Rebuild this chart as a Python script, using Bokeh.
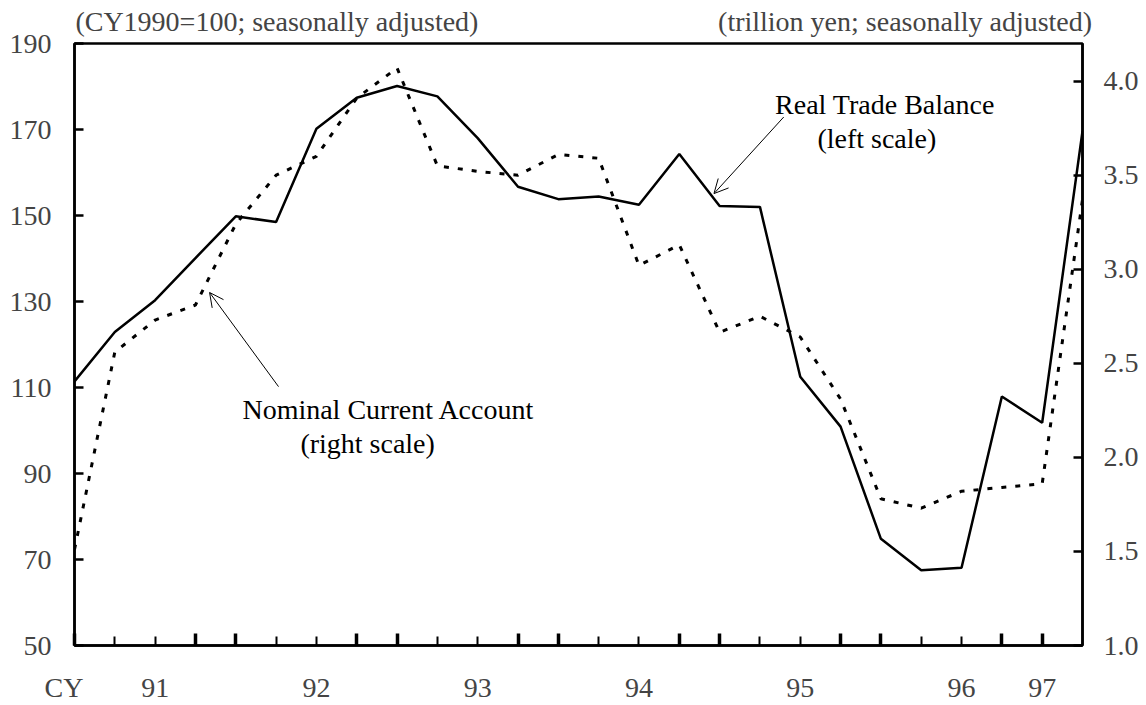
from bokeh.plotting import figure
from bokeh.models import (Range1d, LinearAxis, FixedTicker, Label, Arrow, OpenHead,
                          NumeralTickFormatter)
from bokeh.embed import file_html
from bokeh.resources import INLINE

# ---- data (quarterly index) ----
quarters = list(range(26))
real_trade_balance = [111.4, 122.9, 130.3, 140.1, 149.8, 148.5, 170.2, 177.4, 180.1, 177.7,
                      168.0, 156.7, 153.8, 154.4, 152.5, 164.3, 152.2, 152.0, 112.5, 100.9,
                      74.8, 67.5, 68.1, 107.9, 101.8, 169.6]
nominal_current_account = [1.51, 2.56, 2.73, 2.81, 3.24, 3.50, 3.60, 3.91, 4.07, 3.55,
                           3.52, 3.50, 3.61, 3.59, 3.02, 3.13, 2.665, 2.75, 2.64, 2.31,
                           1.78, 1.73, 1.82, 1.84, 1.86, 3.37]

left_ticks = [50, 70, 90, 110, 130, 150, 170, 190]
right_ticks = [1.0, 1.5, 2.0, 2.5, 3.0, 3.5, 4.0]
tall_ticks = [0, 3, 4, 7, 8, 11, 12, 15, 16, 19, 20, 23, 24]
short_ticks = [1, 2, 5, 6, 9, 10, 13, 14, 17, 18, 21, 22]
year_positions = [0, 2, 6, 10, 14, 18, 22, 24]
year_labels = ["CY\u00a0\u00a0\u00a0", "91", "92", "93", "94", "95", "96", "97"]
unit_positions = [5.02, 20.6]
unit_labels = ["(CY1990=100; seasonally adjusted)", "(trillion yen; seasonally adjusted)"]

FONT = "Liberation Serif"
FS = "28px"

p = figure(width=1146, height=705, output_backend="svg", toolbar_location=None,
           x_range=Range1d(0, 25), y_range=Range1d(50, 190),
           min_border_left=74, min_border_right=64, min_border_top=43, min_border_bottom=53,
           x_axis_location=None, y_axis_location=None)
p.extra_y_ranges = {"right": Range1d(1.0, 4.2)}
p.xgrid.visible = False
p.ygrid.visible = False
p.outline_line_color = "black"
p.outline_line_width = 2.5
p.background_fill_color = "white"
p.border_fill_color = "white"

# left axis
ly = LinearAxis(ticker=FixedTicker(ticks=left_ticks))
ly.axis_line_width = 2.5
ly.major_tick_in = 9
ly.major_tick_out = 0
ly.major_tick_line_width = 2.5
ly.minor_tick_line_color = None
ly.major_label_text_font = FONT
ly.major_label_text_font_size = FS
ly.major_label_standoff = 23
p.add_layout(ly, "left")

# right axis
ry = LinearAxis(y_range_name="right", ticker=FixedTicker(ticks=right_ticks),
                formatter=NumeralTickFormatter(format="0.0"))
ry.axis_line_width = 2.5
ry.major_tick_in = 9
ry.major_tick_out = 0
ry.major_tick_line_width = 2.5
ry.minor_tick_line_color = None
ry.major_label_text_font = FONT
ry.major_label_text_font_size = FS
ry.major_label_standoff = 21
p.add_layout(ry, "right")

# bottom tick axis
bx = LinearAxis(ticker=FixedTicker(ticks=tall_ticks, minor_ticks=short_ticks))
bx.axis_line_width = 2.5
bx.major_tick_in = 12
bx.major_tick_out = 0
bx.major_tick_line_width = 3.5
bx.minor_tick_in = 9
bx.minor_tick_out = 0
bx.minor_tick_line_width = 2
bx.major_label_text_font_size = "0px"
bx.major_label_standoff = 0
p.add_layout(bx, "below")

# bottom label axis (years and "CY")
lx = LinearAxis(ticker=FixedTicker(ticks=year_positions),
                major_label_overrides={pos: lab for pos, lab in zip(year_positions, year_labels)})
lx.axis_line_color = None
lx.major_tick_line_color = None
lx.minor_tick_line_color = None
lx.major_label_text_font = FONT
lx.major_label_text_font_size = FS
lx.major_label_standoff = 20
p.add_layout(lx, "below")

# top unit labels
tx = LinearAxis(ticker=FixedTicker(ticks=unit_positions),
                major_label_overrides={pos: lab for pos, lab in zip(unit_positions, unit_labels)})
tx.axis_line_color = None
tx.major_tick_line_color = None
tx.minor_tick_line_color = None
tx.major_label_text_font = FONT
tx.major_label_text_font_size = FS
tx.major_label_standoff = 1
p.add_layout(tx, "above")

# series
p.line(quarters, real_trade_balance, line_color="black", line_width=2.5)
p.line(quarters, nominal_current_account, y_range_name="right", line_color="black",
       line_width=3, line_dash="5 9")

def lab(x, y, text, align="left"):
    p.add_layout(Label(x=x, y=y, text=text, text_font=FONT, text_font_size=FS,
                       text_align=align, text_baseline="alphabetic", text_color="black"))

lab(20.1, 175.8, "Real Trade Balance", "center")
lab(19.9, 168.0, "(left scale)", "center")
lab(7.79, 104.8, "Nominal Current Account", "center")
lab(7.27, 96.9, "(right scale)", "center")

p.add_layout(Arrow(end=OpenHead(size=14, line_width=1, line_color="black"),
                   x_start=17.59, y_start=172.9, x_end=15.86, y_end=155.1,
                   line_width=1, line_color="black"))
p.add_layout(Arrow(end=OpenHead(size=14, line_width=1, line_color="black"),
                   x_start=5.06, y_start=110.2, x_end=3.35, y_end=132.1,
                   line_width=1, line_color="black"))

open("out.html", "w").write(file_html(p, INLINE))
